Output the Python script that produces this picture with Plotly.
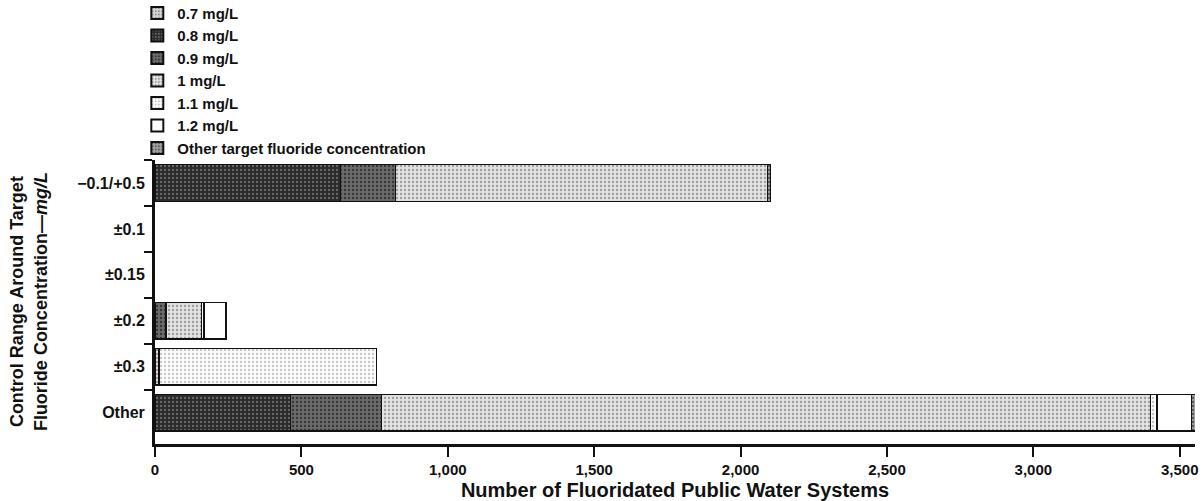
import plotly.graph_objects as go

# Control-range categories (top to bottom)
categories = ["\u22120.1/+0.5", "\u00b10.1", "\u00b10.15", "\u00b10.2", "\u00b10.3", "Other"]

# Number of fluoridated public water systems by target concentration
target_07 = [0, 0, 0, 0, 0, 0]
target_08 = [633, 0, 0, 0, 0, 462]
target_09 = [189, 0, 0, 38, 0, 312]
target_10 = [1270, 0, 0, 120, 14, 2626]
target_11 = [0, 0, 0, 10, 743, 23]
target_12 = [0, 0, 0, 75, 0, 117]
target_other = [10, 0, 0, 0, 0, 14]

series_names = ["0.7 mg/L", "0.8 mg/L", "0.9 mg/L", "1 mg/L", "1.1 mg/L", "1.2 mg/L",
                "Other target fluoride concentration"]
series_values = [target_07, target_08, target_09, target_10, target_11, target_12, target_other]

# halftone-style fills: (background, dot colour)
fills = [("#d4d4d4", "#8a8a8a"), ("#2a2a2a", "#6a6a6a"), ("#6a6a6a", "#333333"),
         ("#e2e2e2", "#9a9a9a"), ("#fbfbfb", "#c4c4c4"), ("#ffffff", "#ffffff"),
         ("#a0a0a0", "#555555")]

x_ticks = [0, 500, 1000, 1500, 2000, 2500, 3000, 3500]

FONT = "Liberation Sans, Arial, sans-serif"

fig = go.Figure()
for name, vals, (bg, fg) in zip(series_names, series_values, fills):
    # empty segments are left out so they do not draw outline slivers
    shown = [v if v else None for v in vals]
    fig.add_trace(go.Bar(
        y=categories, x=shown, name=name, orientation="h",
        width=0.8,
        marker=dict(
            color=bg,
            line=dict(color="#111111", width=1.5),
            pattern=dict(shape=".", bgcolor=bg, fgcolor=fg, size=4,
                         solidity=0.25, fillmode="replace"),
        ),
    ))

fig.update_layout(
    width=1203, height=501,
    barmode="stack",
    plot_bgcolor="white", paper_bgcolor="white",
    margin=dict(l=155, r=8, t=160, b=57, autoexpand=False),
    font=dict(family=FONT, size=15, color="#111111", weight="bold"),
    showlegend=True,
    legend=dict(
        x=-0.017, xanchor="left", y=1.575, yanchor="top", yref="paper",
        traceorder="normal", font=dict(size=15, family=FONT, weight="bold"),
        itemsizing="constant", tracegroupgap=0, bgcolor="rgba(0,0,0,0)",
    ),
    bargap=0.2,
)

fig.update_yaxes(
    categoryorder="array", categoryarray=categories,
    range=[5.68, -0.5],
    automargin=False,
    showline=True, linecolor="#111111", linewidth=3,
    ticks="outside", ticklen=8, tickwidth=1.5, tickcolor="#111111",
    tickson="boundaries", ticklabelstandoff=4,
    tickfont=dict(size=16, family=FONT, weight="bold"),
    showgrid=False, zeroline=False,
)

fig.update_xaxes(
    range=[0, 3552],
    automargin=False,
    tickvals=x_ticks, tickformat=",",
    showline=True, linecolor="#111111", linewidth=3,
    ticks="outside", ticklen=10, tickwidth=1.5, tickcolor="#111111",
    tickfont=dict(size=15, family=FONT, weight="bold"),
    showgrid=False, zeroline=False,
    title=dict(text="Number of Fluoridated Public Water Systems",
               font=dict(size=20, family=FONT, weight="bold"), standoff=8),
)

# Two-line rotated y-axis title
fig.add_annotation(
    xref="paper", yref="paper", x=-0.122, y=0.5,
    xanchor="center", yanchor="middle", textangle=-90, showarrow=False,
    text="Control Range Around Target<br>Fluoride Concentration\u2014<i>mg/L</i>",
    font=dict(size=18, family=FONT, weight="bold"),
    align="center",
)

fig.write_html("out.html")
